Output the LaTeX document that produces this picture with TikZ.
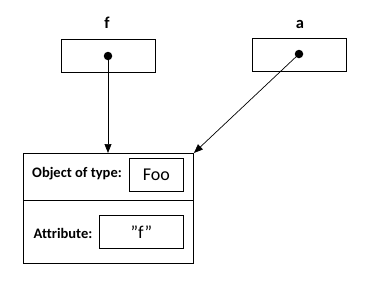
\documentclass[tikz,border=0pt]{standalone}
\usepackage{fontspec}
\setmainfont{Carlito}[Ligatures={NoCommon}]
\usetikzlibrary{arrows.meta}
\begin{document}
\begin{tikzpicture}[x=1pt,y=-1pt,
  box/.style={draw,line width=0.9pt,inner sep=0pt,anchor=north west},
  lbl/.style={font=\fontsize{14.5}{16}\selectfont\bfseries,inner sep=0pt},
  vlbl/.style={font=\fontsize{16.5}{18}\selectfont\bfseries,inner sep=0pt},
  val/.style={font=\fontsize{18}{20}\selectfont,inner sep=0pt},
  dot/.style={circle,fill,inner sep=0pt,minimum size=8.5pt},
  ptr/.style={line width=0.7pt,-{Triangle[length=9pt,width=7pt]}}]
\useasboundingbox (0,0) rectangle (369,285);
% variable boxes
\node[box,minimum width=94pt,minimum height=33pt] (fbox) at (61,39) {};
\node[box,minimum width=94pt,minimum height=33pt] (abox) at (252,38) {};
\node[vlbl] (flabel) at (107,23) {f};
\node[vlbl] (alabel) at (300,24) {a};
\node[dot] (fdot) at (108,56) {};
\node[dot] (adot) at (299,54) {};
% object box
\node[box,minimum width=170pt,minimum height=110pt] (obj) at (23,153) {};
\coordinate (divl) at (23,200);
\coordinate (divr) at (193,200);
\draw[line width=0.9pt] (divl) -- (divr);
\node[lbl] (otype) at (77,174) {Object of type:};
\node[box,minimum width=54pt,minimum height=33pt] (foobox) at (129,158) {};
\node[val] (foo) at (foobox.center) {Foo};
\node[lbl] (attr) at (63,233) {Attribute:};
\node[box,minimum width=84pt,minimum height=33pt] (attrbox) at (99,215) {};
\node[val] (fval) at (attrbox.center) {\symbol{34}f\symbol{34}};
% pointers
\coordinate (ftip) at (108,153);
\draw[ptr] (fdot.center) -- (ftip);
\draw[ptr] (adot.center) -- (obj.north east);
\end{tikzpicture}
\end{document}
